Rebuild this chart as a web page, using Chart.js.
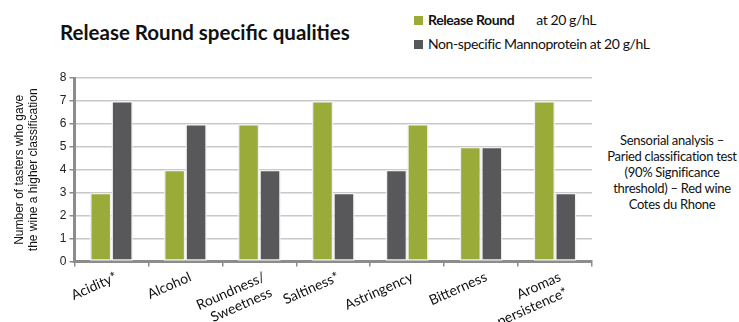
<!DOCTYPE html>
<html>
<head>
<meta charset="utf-8">
<script src="https://cdn.jsdelivr.net/npm/chart.js@4"></script>
<style>
  html, body { margin: 0; padding: 0; background: #fff; overflow: hidden; width: 739px; height: 322px; }
  #title { position: absolute; left: 60px; top: 20px; font: bold 20.5px Lato, sans-serif; color: #111; }
  .leg { position: absolute; left: 414px; font: 14px Lato, sans-serif; letter-spacing: -0.4px; color: #111; white-space: nowrap; }
  .leg i { display: inline-block; width: 9px; height: 9px; margin-right: 5px; vertical-align: 0px; }
  #note { position: absolute; left: 600px; top: 132px; width: 144px; text-align: center; font: 13px Lato, sans-serif; letter-spacing: -0.3px; line-height: 16px; color: #111; white-space: nowrap; }
  #wrap { position: absolute; left: 0; top: 60px; width: 600px; height: 272px; }
</style>
</head>
<body>
<div id="title">Release Round specific qualities</div>
<div class="leg" style="top:11px"><i style="background:#9aab3a"></i><b>Release Round</b><span style="margin-left:22px">at 20 g/hL</span></div>
<div class="leg" style="top:35px"><i style="background:#58585a"></i>Non-specific Mannoprotein at 20 g/hL</div>
<div id="note">Sensorial analysis –<br>Paried classification test<br>(90% Significance<br>threshold) – Red wine<br>Cotes du Rhone</div>
<div id="wrap"><canvas id="c"></canvas></div>
<script>
const categories = ["Acidity*", "Alcohol", ["Roundness/", "Sweetness"], "Saltiness*", "Astringency", "Bitterness", ["Aromas", "persistence*"]];
const releaseRound = [3, 4, 6, 7, 6, 5, 7];
const nonSpecific = [7, 6, 4, 3, 4, 5, 3];
// in the original, Astringency shows the mannoprotein bar first
const swapped = [false, false, false, false, true, false, false];

const GREEN = "#9aab3a";
const DARK = "#58585a";

const left = releaseRound.map((v, i) => (swapped[i] ? nonSpecific[i] : v));
const right = nonSpecific.map((v, i) => (swapped[i] ? releaseRound[i] : v));
const leftColors = swapped.map((s) => (s ? DARK : GREEN));
const rightColors = swapped.map((s) => (s ? GREEN : DARK));

const barStyle = { borderColor: "#efefef", borderWidth: 1.5, borderSkipped: false, barPercentage: 1, categoryPercentage: 0.58 };

new Chart(document.getElementById("c"), {
  type: "bar",
  data: {
    labels: categories,
    datasets: [
      { label: "Release Round at 20 g/hL", data: left, backgroundColor: leftColors, ...barStyle },
      { label: "Non-specific Mannoprotein at 20 g/hL", data: right, backgroundColor: rightColors, ...barStyle },
    ],
  },
  options: {
    responsive: true,
    maintainAspectRatio: false,
    animation: false,
    layout: { padding: { top: 18, right: 8, left: 12, bottom: 0 } },
    plugins: { legend: { display: false }, tooltip: { enabled: false } },
    scales: {
      x: {
        border: { color: "#8c8c8c", width: 3 },
        grid: { drawOnChartArea: false, drawTicks: true, tickLength: 5, color: "#8c8c8c", lineWidth: 1.5 },
        ticks: { autoSkip: false, color: "#111", minRotation: 24, maxRotation: 24, labelOffset: 5, padding: 2, font: { family: "Lato", size: 14 } },
      },
      y: {
        min: 0,
        max: 8,
        border: { color: "#8c8c8c", width: 3 },
        grid: { color: "#c8c8c8", lineWidth: 1.5, tickLength: 5, tickColor: "#8c8c8c" },
        ticks: { stepSize: 1, color: "#222", padding: 3, font: { family: "Liberation Sans", size: 12 } },
        title: {
          display: true,
          text: ["Number of tasters who gave", "the wine a higher classification"],
          color: "#111",
          padding: { top: 0, bottom: 16 },
          font: { family: "Liberation Sans", size: 12 },
        },
      },
    },
  },
});
</script>
</body>
</html>
